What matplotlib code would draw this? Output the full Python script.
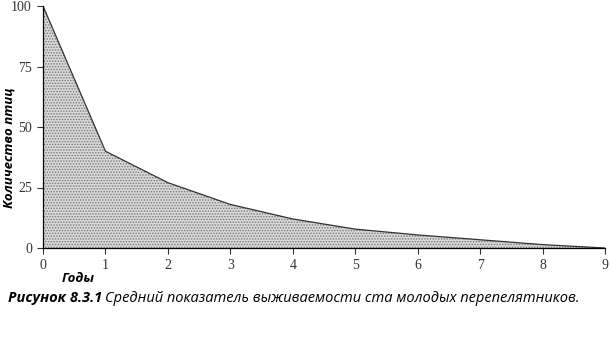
import matplotlib
matplotlib.use('Agg')
import matplotlib.pyplot as plt

# data
years = [0, 1, 2, 3, 4, 5, 6, 7, 8, 9]
birds = [100, 40, 27, 18, 12, 7.8, 5.4, 3.4, 1.4, 0]
xticks = [0, 1, 2, 3, 4, 5, 6, 7, 8, 9]
yticks = [0, 25, 50, 75, 100]

SANS = 'Open Sans'
SERIF = 'Liberation Serif'

fig = plt.figure(figsize=(6.11, 3.40), dpi=100, facecolor='w')
ax = fig.add_axes([43/611, 1 - 248/340, 562/611, 242/340])

plt.rcParams['hatch.color'] = '#777777'
plt.rcParams['hatch.linewidth'] = 0.7
ax.fill_between(years, birds, 0, facecolor='#d9d9d9', hatch='......',
                edgecolor='#777777', linewidth=0)
ax.plot(years, birds, color='#333333', lw=0.9)

ax.set_xlim(0, 9)
ax.set_ylim(0, 100)
ax.set_xticks(xticks)
ax.set_yticks(yticks)
ax.spines['top'].set_visible(False)
ax.spines['right'].set_visible(False)
ax.spines['left'].set_linewidth(0.9)
ax.spines['bottom'].set_linewidth(0.9)
ax.tick_params(direction='out', length=4, width=0.8, colors='#333333',
               labelsize=10, pad=4)
for lab in ax.get_xticklabels() + ax.get_yticklabels():
    lab.set_fontfamily(SERIF)
ax.patch.set_visible(False)

fig.text(62/611, 1 - 279/340, 'Годы', family=SANS, weight='bold',
         style='italic', fontsize=9.5, va='center', ha='left')
fig.text(9/611, 1 - 148/340, 'Количество птиц', family=SANS, weight='bold',
         style='italic', fontsize=9.5, rotation=90, va='center', ha='center')

t1 = fig.text(8/611, 1 - 298/340, 'Рисунок 8.3.1', family=SANS, weight='bold',
              style='italic', fontsize=10.5, va='center', ha='left')
fig.canvas.draw()
bb = t1.get_window_extent()
fig.text(bb.x1 / 611 + 3/611, 1 - 298/340,
         'Средний показатель выживаемости ста молодых перепелятников.',
         family=SANS, style='italic', fontsize=10.5, va='center', ha='left')

fig.savefig('out.png', dpi=100)
